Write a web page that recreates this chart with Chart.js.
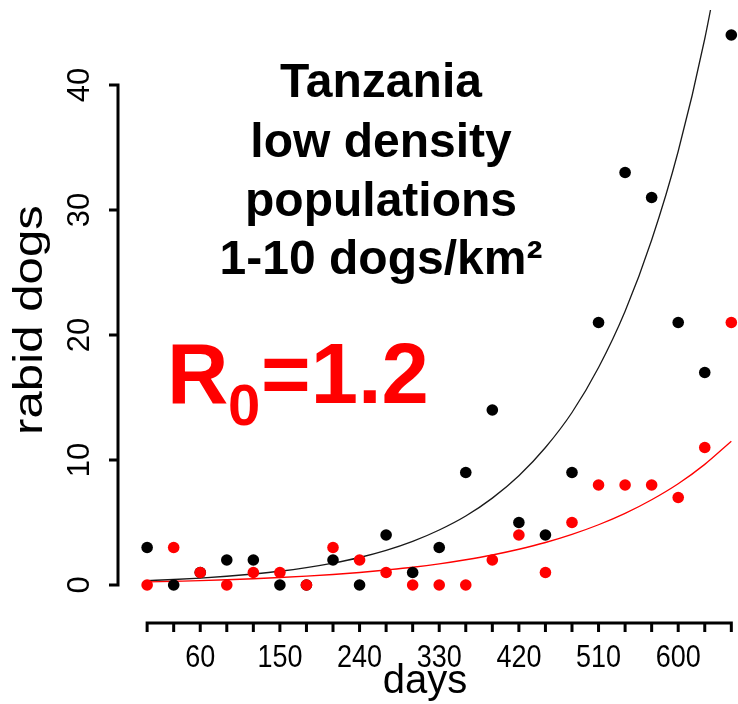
<!DOCTYPE html>
<html>
  <head>
    <meta charset="utf-8" />
    <title>rabid dogs - Tanzania</title>
    <script src="https://cdn.jsdelivr.net/npm/chart.js"></script>
    <style>
      html, body { margin: 0; padding: 0; background: #fff; overflow: hidden; }
      #wrap { position: relative; width: 738px; height: 704px; }
    </style>
  </head>
  <body>
    <div id="wrap">
      <canvas id="rabiesChart"></canvas>
    </div>
    <script type="text/javascript">
      // monthly case counts (every 30 days)
      var days = [0, 30, 60, 90, 120, 150, 180, 210, 240, 270, 300, 330, 360, 390, 420, 450, 480, 510, 540, 570, 600, 630, 660]
      var casesBlack = [3, 0, 1, 2, 2, 0, 0, 2, 0, 4, 1, 3, 9, 14, 5, 4, 9, 21, 33, 31, 21, 17, 44]
      var casesRed = [0, 3, 1, 0, 1, 1, 0, 3, 2, 1, 0, 0, 0, 2, 4, 1, 5, 8, 8, 8, 7, 11, 21]

      // fitted growth curves, read at the same days
      var fitBlack = [0.35, 0.44, 0.55, 0.7, 0.88, 1.1, 1.39, 1.75, 2.2, 2.77, 3.49, 4.4, 5.52, 6.95, 8.74, 11.0, 13.8, 17.4, 21.9, 27.6, 34.7, 43.7, 55]
      var fitRed = [0.25, 0.3, 0.35, 0.42, 0.5, 0.6, 0.71, 0.84, 1.0, 1.2, 1.42, 1.69, 2.02, 2.4, 2.86, 3.4, 4.05, 4.82, 5.73, 6.82, 8.1, 9.65, 11.5]

      // axis ticks
      var yTicks = [0, 10, 20, 30, 40]
      var xTickMarks = days
      var xTickLabels = [60, 150, 240, 330, 420, 510, 600]

      function pairs(xs, ys) {
        return xs.map(function(x, i) { return { x: x, y: ys[i] } })
      }

      var FONT = "'Liberation Sans', Arial, Helvetica, sans-serif"

      var axesAndText = {
        id: 'axesAndText',
        afterDraw: function(chart) {
          var ctx = chart.ctx
          var xs = chart.scales.x
          var ys = chart.scales.y
          ctx.save()
          ctx.strokeStyle = '#000'
          ctx.fillStyle = '#000'
          ctx.lineWidth = 3
          ctx.lineCap = 'butt'

          // y axis, detached to the left
          var ax = 118
          ctx.beginPath()
          ctx.moveTo(ax, ys.getPixelForValue(yTicks[0]))
          ctx.lineTo(ax, ys.getPixelForValue(yTicks[yTicks.length - 1]))
          yTicks.forEach(function(t) {
            var py = ys.getPixelForValue(t)
            ctx.moveTo(ax + 1.5, py)
            ctx.lineTo(ax - 9, py)
          })
          ctx.stroke()

          ctx.font = '31px ' + FONT
          ctx.textAlign = 'center'
          ctx.textBaseline = 'alphabetic'
          yTicks.forEach(function(t) {
            var py = ys.getPixelForValue(t)
            ctx.save()
            ctx.translate(89, py)
            ctx.rotate(-Math.PI / 2)
            ctx.fillText(String(t), 0, 0)
            ctx.restore()
          })

          // x axis below the plot
          var ay = 623
          ctx.beginPath()
          ctx.moveTo(xs.getPixelForValue(xTickMarks[0]), ay)
          ctx.lineTo(xs.getPixelForValue(xTickMarks[xTickMarks.length - 1]), ay)
          xTickMarks.forEach(function(t) {
            var px = xs.getPixelForValue(t)
            ctx.moveTo(px, ay - 1.5)
            ctx.lineTo(px, ay + 9)
          })
          ctx.stroke()

          xTickLabels.forEach(function(t) {
            var px = xs.getPixelForValue(t)
            ctx.save()
            ctx.translate(px, 667)
            ctx.scale(0.87, 1)
            ctx.fillText(String(t), 0, 0)
            ctx.restore()
          })

          // axis titles
          ctx.font = '40px ' + FONT
          ctx.fillText('days', 425, 693)

          ctx.save()
          ctx.translate(42, 320)
          ctx.rotate(-Math.PI / 2)
          ctx.scale(1.2, 1)
          ctx.font = '41px ' + FONT
          ctx.fillText('rabid dogs', 0, 0)
          ctx.restore()

          // heading
          ctx.font = 'bold 48px ' + FONT
          var heading = ['Tanzania', 'low density', 'populations', '1-10 dogs/km\u00b2']
          var baselines = [97, 157, 216, 274]
          heading.forEach(function(line, i) {
            ctx.fillText(line, 381, baselines[i])
          })

          // reproduction number
          ctx.fillStyle = '#ff0000'
          ctx.textAlign = 'left'
          ctx.font = 'bold 85px ' + FONT
          ctx.fillText('R', 167, 403)
          ctx.font = 'bold 58px ' + FONT
          ctx.fillText('0', 228, 425)
          ctx.font = 'bold 85px ' + FONT
          ctx.fillText('=1.2', 261, 403)

          ctx.restore()
        }
      }

      var ctx = document.getElementById('rabiesChart').getContext('2d')
      new Chart(ctx, {
        type: 'scatter',
        data: {
          datasets: [
            {
              label: 'red',
              data: pairs(days, casesRed),
              backgroundColor: '#ff0000',
              borderColor: '#ff0000',
              pointRadius: 5.8,
              pointBorderWidth: 0,
              clip: false,
            },
            {
              label: 'black',
              data: pairs(days, casesBlack),
              backgroundColor: '#000',
              borderColor: '#000',
              pointRadius: 5.8,
              pointBorderWidth: 0,
              clip: false,
            },
            {
              label: 'fit red',
              data: pairs(days, fitRed),
              showLine: true,
              borderColor: '#ff0000',
              borderWidth: 1.3,
              pointRadius: 0,
              cubicInterpolationMode: 'monotone',
            },
            {
              label: 'fit black',
              data: pairs(days, fitBlack),
              showLine: true,
              borderColor: '#1a1a1a',
              borderWidth: 1.3,
              pointRadius: 0,
              cubicInterpolationMode: 'monotone',
            },
          ]
        },
        options: {
          responsive: true,
          maintainAspectRatio: false,
          animation: false,
          layout: {
            padding: { left: 125, right: 0, top: 10, bottom: 104 }
          },
          plugins: {
            legend: { display: false },
            tooltip: { enabled: false },
          },
          scales: {
            x: { type: 'linear', display: false, min: -25, max: 661 },
            y: { type: 'linear', display: false, min: -1.2, max: 46 },
          }
        },
        plugins: [axesAndText]
      })
    </script>
  </body>
</html>
